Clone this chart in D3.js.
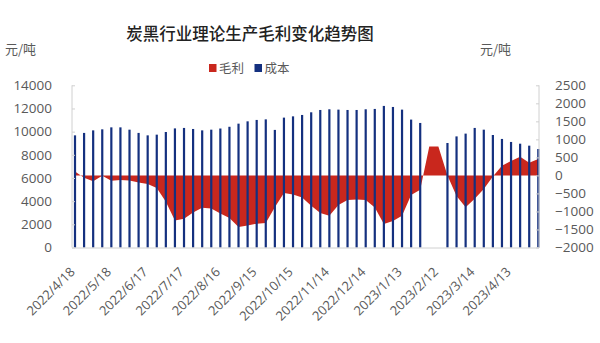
<!DOCTYPE html>
<html><head><meta charset="utf-8">
<script src="https://cdn.jsdelivr.net/npm/d3@7"></script>
<style>
html,body{margin:0;padding:0;background:#fff;}
svg{display:block;}
text{font-family:"Open Sans","Noto Sans CJK SC",sans-serif;}
</style></head>
<body><svg id="c" width="600" height="343"></svg>
<script>
const categories = ["2022/4/18","2022/4/25","2022/5/3","2022/5/10","2022/5/18","2022/5/25","2022/6/2","2022/6/9","2022/6/17","2022/6/24",
"2022/7/2","2022/7/9","2022/7/17","2022/7/24","2022/8/1","2022/8/8","2022/8/16","2022/8/23","2022/8/31","2022/9/7",
"2022/9/15","2022/9/22","2022/9/30","2022/10/7","2022/10/15","2022/10/22","2022/10/30","2022/11/6","2022/11/14","2022/11/21",
"2022/11/29","2022/12/6","2022/12/14","2022/12/21","2022/12/29","2023/1/5","2023/1/13","2023/1/20","2023/1/28","2023/2/4",
"2023/2/12","2023/2/19","2023/2/27","2023/3/6","2023/3/14","2023/3/21","2023/3/29","2023/4/5","2023/4/13","2023/4/20",
"2023/4/28","2023/5/5"];
const cost = [9680,9890,10110,10200,10370,10370,10170,9890,9680,9740,
9970,10280,10320,10230,10110,10170,10270,10420,10690,10890,
11010,11060,10150,11210,11320,11440,11670,11870,11930,11900,
11870,11870,11930,11960,12220,12130,11900,11040,10750,null,
null,9020,9590,9830,10320,10170,9710,9370,9110,8960,
8790,8500];
const profit = [110,-65,-160,-10,-150,-130,-140,-200,-235,-350,
-730,-1250,-1200,-1030,-900,-915,-1060,-1180,-1430,-1390,
-1340,-1320,-880,-490,-530,-610,-845,-1040,-1120,-820,
-680,-670,-680,-890,-1345,-1266,-1120,-540,-400,800,
800,0,-570,-880,-650,-380,-30,270,400,520,
350,455];
const tickLabels = ["2022/4/18","2022/5/18","2022/6/17","2022/7/17","2022/8/16","2022/9/15","2022/10/15","2022/11/14","2022/12/14","2023/1/13","2023/2/12","2023/3/14","2023/4/13"];
const leftTicks = [0,2000,4000,6000,8000,10000,12000,14000];
const rightTicks = [-2000,-1500,-1000,-500,0,500,1000,1500,2000,2500];

const svg = d3.select("#c");
const plotL = 72, plotR = 539, plotT = 85.3, plotB = 247.5;
const x = d3.scalePoint().domain(categories).range([75, 538.3]);
const yL = d3.scaleLinear().domain([0,14000]).range([plotB, plotT]);
const yR = d3.scaleLinear().domain([-2000,2500]).range([plotB, plotT]);
const red = "#c9271d", blue = "#14307f", axisCol = "#d0d0d0", txt = "#595959";

// title
svg.append("text").attr("x",250).attr("y",40).attr("text-anchor","middle")
  .style("font-family","'Noto Sans CJK SC',sans-serif").style("font-size","16.5px").style("font-weight","500")
  .attr("fill","#222").text("炭黑行业理论生产毛利变化趋势图");
// units
svg.append("text").attr("x",5).attr("y",54).style("font-family","'Noto Sans CJK SC',sans-serif")
  .style("font-size","13px").attr("fill",txt).text("元/吨");
svg.append("text").attr("x",480).attr("y",54).style("font-family","'Noto Sans CJK SC',sans-serif")
  .style("font-size","13px").attr("fill",txt).text("元/吨");
// legend
const legend = [{name:"毛利",c:red,x:209},{name:"成本",c:blue,x:254.5}];
legend.forEach(l=>{
  svg.append("rect").attr("x",l.x).attr("y",64).attr("width",7.5).attr("height",8).attr("fill",l.c);
  svg.append("text").attr("x",l.x+10).attr("y",72.5).style("font-family","'Noto Sans CJK SC',sans-serif")
    .style("font-size","12.5px").attr("fill",txt).text(l.name);
});

// profit area
const area = d3.area().defined(d=>d!=null)
  .x((d,i)=>x(categories[i])).y0(yR(0)).y1(d=>yR(d));
svg.append("path").datum(profit).attr("d",area).attr("fill",red);

// cost bars
svg.append("g").selectAll("rect").data(cost.map((v,i)=>({c:categories[i],v})).filter(d=>d.v!=null))
  .join("rect").attr("x",d=>x(d.c)-1.1).attr("width",2.2)
  .attr("y",d=>yL(d.v)).attr("height",d=>yL(0)-yL(d.v)).attr("fill",blue);

// axes
const gL = svg.append("g").attr("transform",`translate(${plotL},0)`)
  .call(d3.axisLeft(yL).tickValues(leftTicks).tickSize(-3).tickPadding(20).tickFormat(d3.format("d")));
const gR = svg.append("g").attr("transform",`translate(${plotR},0)`)
  .call(d3.axisRight(yR).tickValues(rightTicks).tickSize(-3).tickPadding(16).tickFormat(d3.format("d")));
[gL,gR].forEach(g=>{
  g.select(".domain").attr("stroke",axisCol).attr("d",`M0,${plotT}V${plotB}`);
  g.selectAll(".tick line").attr("stroke",axisCol);
  g.selectAll(".tick text").attr("fill",txt).style("font-size","13.5px").style("font-family","'Open Sans',sans-serif");
});
// bottom axis
svg.append("line").attr("x1",plotL).attr("x2",plotR).attr("y1",plotB+0.5).attr("y2",plotB+0.5).attr("stroke",axisCol);
const gB = svg.append("g").attr("transform",`translate(0,${plotB})`)
  .call(d3.axisBottom(x).tickValues(tickLabels).tickSize(0).tickFormat(d=>d));
gB.select(".domain").remove();
gB.selectAll(".tick text").attr("fill",txt).style("font-size","13px").style("font-family","'Open Sans',sans-serif")
  .attr("text-anchor","end").attr("transform","translate(-3,22) rotate(-45)").attr("dy","0.35em").attr("y",0).attr("x",0);
</script></body></html>
